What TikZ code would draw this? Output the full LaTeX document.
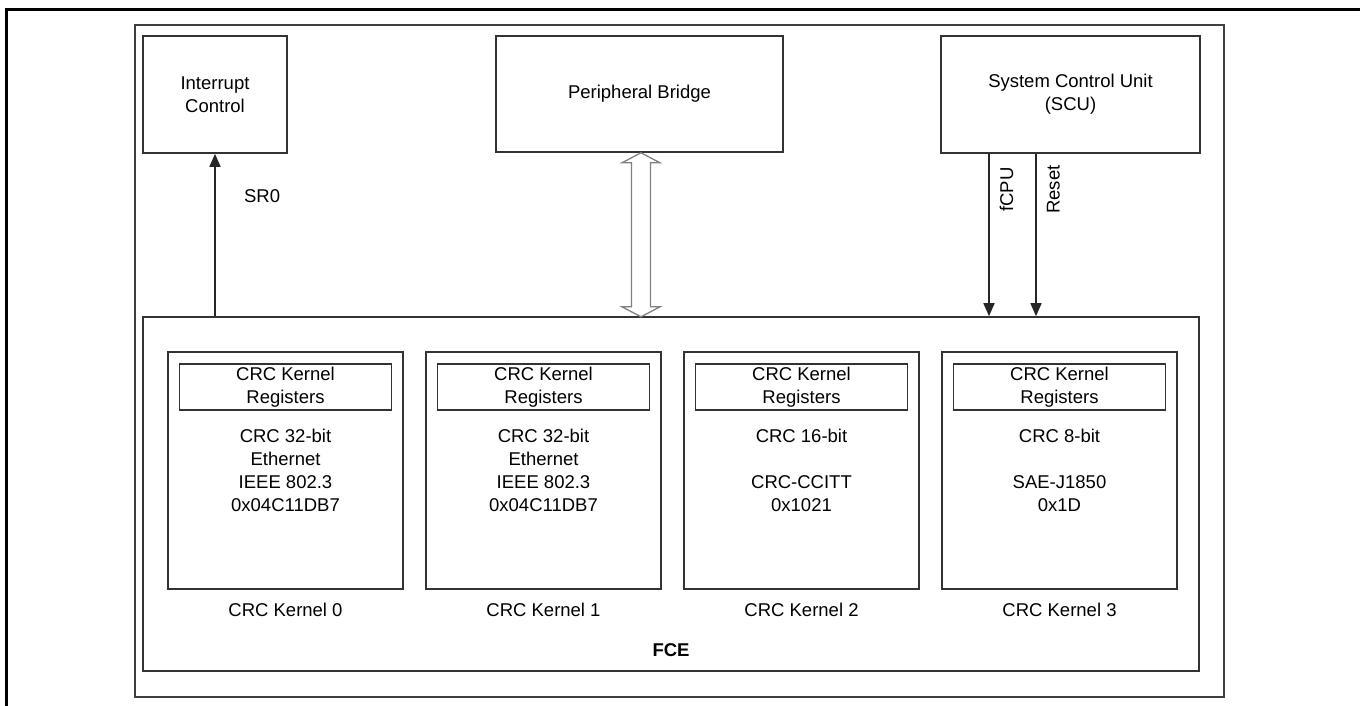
\documentclass[tikz,border=0pt]{standalone}
\usepackage{fontspec}
\setmainfont{Liberation Sans}
\usetikzlibrary{arrows.meta,positioning}

\begin{document}
\begin{tikzpicture}[x=1pt,y=-1pt,
        box/.style={draw=black!80,line width=1.6pt,align=center,inner sep=0pt,
            font=\fontsize{18.5}{23}\selectfont},
        txt/.style={align=center,font=\fontsize{18.5}{23}\selectfont},
        sig/.style={draw=black!85,line width=1.6pt,-{Triangle[length=13pt,width=11pt]}},
        bus/.style={draw=black!50,line width=1.3pt,line join=miter}]
        \useasboundingbox (0,0) rectangle (1360,706);

        % page frame
        \draw[line width=3pt] (6,706) -- (6,10) -- (1360,10);
        \draw[line width=1.6pt,black!75] (135,25) rectangle (1224,697);

        % top blocks
        \node[box,minimum width=144pt,minimum height=117pt] (intc) at (215,94.5) {Interrupt\\Control};
        \node[box,minimum width=287pt,minimum height=116pt] (bridge) at (639.5,94) {Peripheral Bridge};
        \node[box,minimum width=259pt,minimum height=117pt] (scu) at (1070.5,94.5) {System Control Unit\\(SCU)};

        % FCE module
        \node[box,minimum width=1056pt,minimum height=354pt] (fce) at (671,494) {};
        \node[txt,font=\fontsize{18.5}{23}\selectfont\bfseries,above=12pt of fce.south] (fcelbl) {FCE};

        % CRC kernels
        \foreach \i/\alg in {0/{CRC 32-bit\\Ethernet\\IEEE 802.3\\0x04C11DB7},
                1/{CRC 32-bit\\Ethernet\\IEEE 802.3\\0x04C11DB7},
                2/{CRC 16-bit\\\mbox{}\\CRC-CCITT\\0x1021},
                3/{CRC 8-bit\\\mbox{}\\SAE-J1850\\0x1D}} {
            \node[box,minimum width=235pt,minimum height=237pt] (k\i) at (285.5+258*\i,470.5) {\alg};
            \node[box,minimum width=212pt,minimum height=46pt,below=12pt of k\i.north] (reg\i) {CRC Kernel\\Registers};
            \node[txt,below=10pt of k\i] (klbl\i) {CRC Kernel \i};
        }

        % service request
        \draw[sig] (intc.south |- fce.north) -- (intc.south)
            node[txt,pos=0.74,anchor=west,xshift=25pt] {SR0};

        % bus interface (hollow double arrow)
        \coordinate (busx) at ([xshift=1.5pt]bridge.south);
        \draw[bus] (busx) -- ++(19,10) -- ++(-9.5,0) -- ++(0,144) -- ++(9.5,0)
            -- ++(-19,10) -- ++(-19,-10) -- ++(9.5,0) -- ++(0,-144) -- ++(-9.5,0) -- cycle;

        % clock and reset
        \coordinate (clk) at ([xshift=-81.5pt]scu.south);
        \coordinate (rst) at ([xshift=-34.5pt]scu.south);
        \draw[sig] (clk) -- (clk |- fce.north)
            node[txt,pos=0.22,rotate=90,anchor=north,inner sep=10pt] {fCPU};
        \draw[sig] (rst) -- (rst |- fce.north)
            node[txt,pos=0.22,rotate=90,anchor=north,inner sep=10pt] {Reset};
    \end{tikzpicture}
\end{document}
